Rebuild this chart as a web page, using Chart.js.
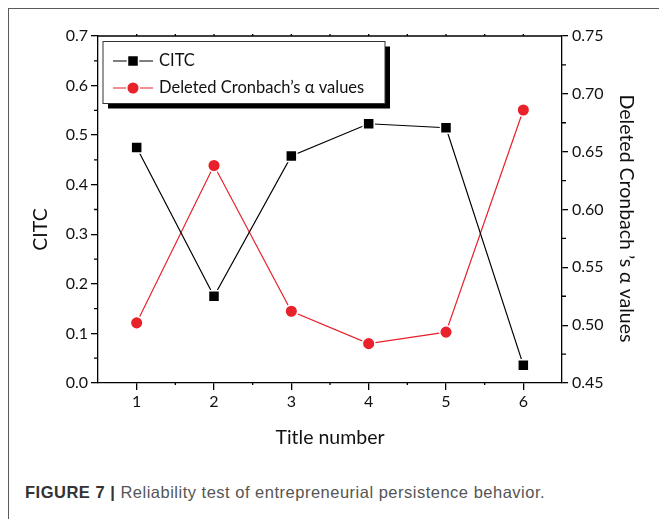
<!DOCTYPE html>
<html>
<head>
<meta charset="utf-8">
<script src="https://cdn.jsdelivr.net/npm/chart.js@4"></script>
<style>
  body { margin: 0; background: #fff; }
  #frame { position: absolute; left: 8px; top: 8px; width: 720px; height: 600px; border: 1.3px solid #5a5a5a; }
  #wrap { position: absolute; left: 0; top: 0; width: 659px; height: 460px; }
  #caption { position: absolute; left: 25px; top: 483px; font: 16.5px "Liberation Sans", Arial, sans-serif; letter-spacing: 0.5px; color: #555; white-space: nowrap; }
  #caption b { color: #333; }
</style>
</head>
<body>
<div id="frame"></div>
<div id="wrap"><canvas id="chartLine"></canvas></div>
<div id="caption"><b>FIGURE 7 |</b> Reliability test of entrepreneurial persistence behavior.</div>
<script>
// data
const categories = ["1", "2", "3", "4", "5", "6"];
const citcValues = [0.475, 0.175, 0.458, 0.523, 0.515, 0.036];
const alphaValues = [0.502, 0.638, 0.512, 0.484, 0.494, 0.686];
const leftMinorTicks = [0.05, 0.15, 0.25, 0.35, 0.45, 0.55, 0.65];
const rightMinorTicks = [0.475, 0.525, 0.575, 0.625, 0.675, 0.725];

const font = "Lato, 'Open Sans', sans-serif";
const red = "#e8212b";
const leftTitle = "CITC";
const rightTitle = "Deleted Cronbach \u2019s \u03b1 values";

// minor ticks, top frame line and the two side titles
const axisExtras = {
    id: "axisExtras",
    afterDraw(chart) {
        const ctx = chart.ctx;
        const a = chart.chartArea;
        const x = chart.scales.x, y = chart.scales.y, y1 = chart.scales.y1;
        ctx.save();
        ctx.strokeStyle = "#000";
        ctx.lineWidth = 1.3;
        ctx.beginPath();
        ctx.moveTo(a.left - 1, a.top);
        ctx.lineTo(a.right, a.top);
        leftMinorTicks.forEach(v => {
            const p = y.getPixelForValue(v);
            ctx.moveTo(a.left - 4, p);
            ctx.lineTo(a.left, p);
        });
        rightMinorTicks.forEach(v => {
            const p = y1.getPixelForValue(v);
            ctx.moveTo(a.right, p);
            ctx.lineTo(a.right + 4, p);
        });
        for (let i = 0; i < categories.length; i++) {
            const p = x.getPixelForValue(i);
            ctx.moveTo(p, a.top);
            ctx.lineTo(p, a.top - 2);
            if (i < categories.length - 1) {
                const m = (p + x.getPixelForValue(i + 1)) / 2;
                ctx.moveTo(m, a.bottom);
                ctx.lineTo(m, a.bottom + 2);
                ctx.moveTo(m, a.top);
                ctx.lineTo(m, a.top - 2);
            }
        }
        ctx.stroke();

        // side titles sit a bit below the middle in the original
        ctx.fillStyle = "#111";
        ctx.font = "19.5px " + font;
        ctx.textAlign = "center";
        ctx.textBaseline = "middle";
        const mid = (a.top + a.bottom) / 2;
        ctx.save();
        ctx.translate(41, mid + 20);
        ctx.rotate(-Math.PI / 2);
        ctx.fillText(leftTitle, 0, 0);
        ctx.restore();
        ctx.save();
        ctx.translate(626, mid + 9);
        ctx.rotate(Math.PI / 2);
        ctx.fillText(rightTitle, 0, 0);
        ctx.restore();
        ctx.restore();
    }
};

// boxed legend with drop shadow, inside the plot
const boxLegend = {
    id: "boxLegend",
    afterDraw(chart) {
        const ctx = chart.ctx;
        const bx = 103, by = 41.5, bw = 282, bh = 62;
        ctx.save();
        ctx.fillStyle = "#000";
        ctx.fillRect(bx + 5, by + 5, bw, bh);
        ctx.fillStyle = "#fff";
        ctx.fillRect(bx, by, bw, bh);
        ctx.strokeStyle = "#333";
        ctx.lineWidth = 1;
        ctx.strokeRect(bx, by, bw, bh);
        chart.data.datasets.forEach((ds, i) => {
            const ry = by + 19.5 + i * 27;
            ctx.strokeStyle = ds.borderColor;
            ctx.lineWidth = 1.2;
            ctx.beginPath();
            ctx.moveTo(113, ry);
            ctx.lineTo(153, ry);
            ctx.stroke();
            ctx.fillStyle = ds.pointBackgroundColor;
            ctx.strokeStyle = "#fff";
            ctx.lineWidth = 1.5;
            ctx.beginPath();
            if (ds.pointStyle === "rect") {
                ctx.rect(127.5, ry - 5.5, 11, 11);
            } else {
                ctx.arc(133, ry, 6.3, 0, Math.PI * 2);
            }
            ctx.fill();
            ctx.stroke();
            ctx.fillStyle = "#111";
            ctx.font = "16.5px " + font;
            ctx.textBaseline = "middle";
            ctx.fillText(ds.label, 159, ry);
        });
        ctx.restore();
    }
};

const dataLine = {
    labels: categories,
    datasets: [
        {
            label: "CITC",
            data: citcValues,
            yAxisID: "y",
            borderColor: "#000",
            borderWidth: 1.2,
            pointStyle: "rect",
            pointRadius: 7.8,
            pointBackgroundColor: "#000",
            pointBorderColor: "#fff",
            pointBorderWidth: 1.5,
        },
        {
            label: "Deleted Cronbach\u2019s \u03b1 values",
            data: alphaValues,
            yAxisID: "y1",
            borderColor: red,
            borderWidth: 1.2,
            pointStyle: "circle",
            pointRadius: 6.3,
            pointBackgroundColor: red,
            pointBorderColor: "#fff",
            pointBorderWidth: 1.5,
        },
    ],
};

const axisGrid = {
    drawOnChartArea: false,
    color: "#000",
    lineWidth: 1.3,
    tickLength: 7,
};

const configLine = {
    type: "line",
    data: dataLine,
    options: {
        responsive: true,
        maintainAspectRatio: false,
        animation: false,
        layout: { padding: { top: 36, left: 0, right: 0, bottom: 0 } },
        plugins: {
            legend: { display: false },
            tooltip: { enabled: false },
        },
        scales: {
            x: {
                type: "category",
                offset: true,
                grid: Object.assign({ offset: false }, axisGrid),
                border: { color: "#000", width: 1.3 },
                ticks: { color: "#111", font: { family: font, size: 16 }, padding: 2 },
                title: {
                    display: true, text: "Title number", color: "#111",
                    font: { family: font, size: 19.5 }, padding: { bottom: 11 },
                },
                afterFit(scale) { scale.height = 77; },
            },
            y: {
                position: "left",
                min: 0, max: 0.7,
                grid: axisGrid,
                border: { color: "#000", width: 1.3 },
                ticks: {
                    stepSize: 0.1, color: "#111", padding: 3,
                    font: { family: font, size: 16 },
                    callback: v => v.toFixed(1),
                },
                afterFit(scale) { scale.width = 98; },
            },
            y1: {
                position: "right",
                min: 0.45, max: 0.75,
                grid: Object.assign({}, axisGrid, { tickLength: 6 }),
                border: { color: "#000", width: 1.3 },
                ticks: {
                    stepSize: 0.05, color: "#111", padding: 4,
                    font: { family: font, size: 16 },
                    callback: v => v.toFixed(2),
                },
                afterFit(scale) { scale.width = 97; },
            },
        },
    },
    plugins: [axisExtras, boxLegend],
};

var chartLine = new Chart(
    document.getElementById("chartLine"),
    configLine
);
</script>
</body>
</html>
